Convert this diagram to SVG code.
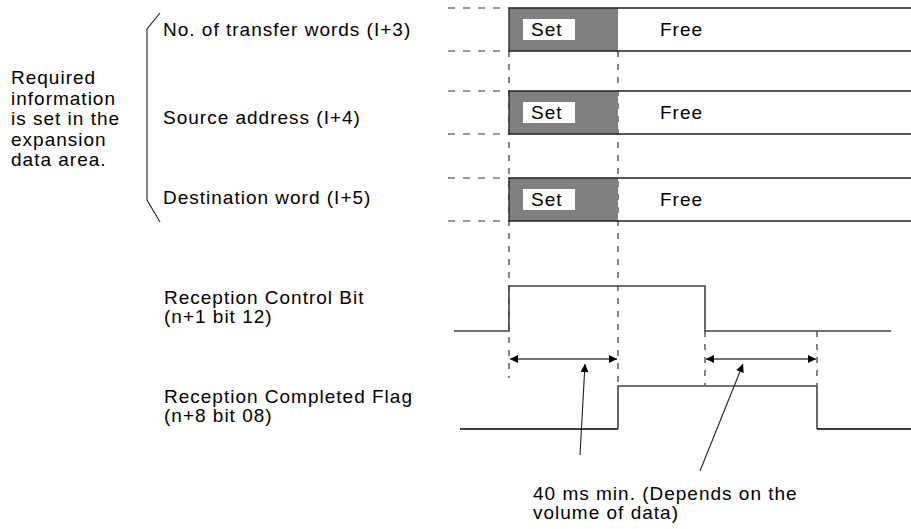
<svg xmlns="http://www.w3.org/2000/svg" width="911" height="529" viewBox="0 0 911 529">
<style>
text{font-family:"Liberation Sans",Arial,sans-serif;font-size:19px;fill:#000;letter-spacing:1px}
.dash{stroke:#333;stroke-width:1.2;stroke-dasharray:7 8;fill:none}
.vdash{stroke:#333;stroke-width:1.2;stroke-dasharray:6 7;fill:none}
.sig{stroke:#444;stroke-width:1.6;fill:none}
.sigb{stroke:#000;stroke-width:1.6;fill:none}
.box{stroke:#222;stroke-width:1.3;fill:none}
.thin{stroke:#222;stroke-width:1.1;fill:none}
</style>
<defs>
<marker id="ah" viewBox="0 0 10 10" refX="10" refY="5" markerWidth="16" markerHeight="8" markerUnits="userSpaceOnUse" orient="auto-start-reverse">
<path d="M0,0 L10,5 L0,10 z" fill="#000"/>
</marker>
<marker id="lh" viewBox="0 0 10 10" refX="10" refY="5" markerWidth="16" markerHeight="8" markerUnits="userSpaceOnUse" orient="auto">
<path d="M0,0 L10,5 L0,10 z" fill="#000"/>
</marker>
</defs>
<rect width="911" height="529" fill="#fff"/>

<g id="connectors">
<path class="dash" d="M448,8H509M448,51H509M448,91H509M448,134H509M448,178H509M448,221H509"/>
<path class="vdash" d="M509,51V378M618,51V385M705,331V385M817,331V385"/>
<path class="sig" d="M454,331H509V286H705V331H891"/>
<path class="sigb" d="M460,429H618"/>
<path class="sig" d="M618,429V386H817V429"/>
<path class="sigb" d="M817,429H911"/>
<line class="sig" x1="510" y1="359" x2="617" y2="359" marker-start="url(#ah)" marker-end="url(#ah)"/>
<line class="sig" x1="706" y1="359" x2="816" y2="359" marker-start="url(#ah)" marker-end="url(#ah)"/>
<line class="thin" x1="580" y1="455" x2="585" y2="364" marker-end="url(#lh)"/>
<line class="thin" x1="700" y1="471" x2="743" y2="364" marker-end="url(#lh)"/>
<path class="thin" d="M160,13L147,29V200L160,222" stroke="#555" stroke-width="1.3"/>
</g>

<g id="row1">
<rect x="509" y="8" width="109" height="43" fill="#808080"/>
<path class="box" d="M911,8H509V51H911"/>
<rect x="523" y="19" width="52" height="21" fill="#fff"/>
<text x="531" y="36">Set</text>
<text x="660" y="36">Free</text>
<text x="163" y="36">No. of transfer words (I+3)</text>
</g>
<g id="row2">
<rect x="509" y="91" width="109" height="43" fill="#808080"/>
<path class="box" d="M911,91H509V134H911"/>
<rect x="523" y="102" width="52" height="21" fill="#fff"/>
<text x="531" y="119">Set</text>
<text x="660" y="119">Free</text>
<text x="163" y="124">Source address (I+4)</text>
</g>
<g id="row3">
<rect x="509" y="178" width="109" height="43" fill="#808080"/>
<path class="box" d="M911,178H509V221H911"/>
<rect x="523" y="189" width="52" height="21" fill="#fff"/>
<text x="531" y="206">Set</text>
<text x="660" y="206">Free</text>
<text x="163" y="204">Destination word (I+5)</text>
</g>

<g id="note">
<text x="11" y="84">Required</text>
<text x="11" y="104.5">information</text>
<text x="11" y="125">is set in the</text>
<text x="11" y="145.5">expansion</text>
<text x="11" y="166">data area.</text>
</g>

<g id="rcb">
<text x="164" y="304">Reception Control Bit</text>
<text x="164" y="323">(n+1 bit 12)</text>
</g>
<g id="rcf">
<text x="164" y="403">Reception Completed Flag</text>
<text x="164" y="422">(n+8 bit 08)</text>
</g>
<g id="timing">
<text x="533" y="500">40 ms min. (Depends on the</text>
<text x="533" y="519">volume of data)</text>
</g>
</svg>
